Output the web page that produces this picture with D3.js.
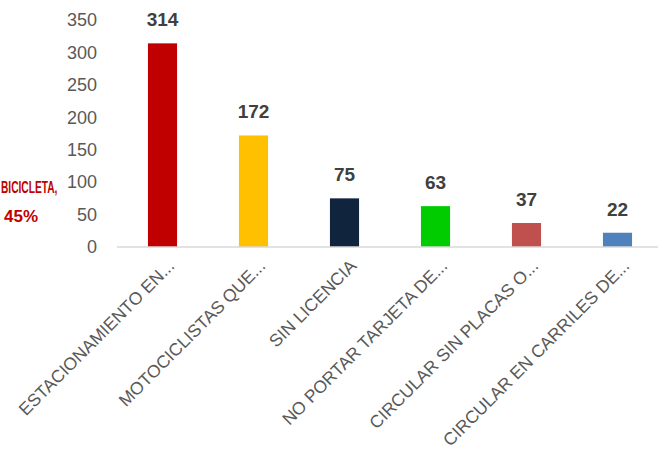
<!DOCTYPE html>
<html>
<head>
<meta charset="utf-8">
<script src="https://cdn.jsdelivr.net/npm/d3@7"></script>
<style>
  body { margin: 0; background: #fff; }
  svg { display: block; font-family: "Liberation Sans", Arial, sans-serif; }
</style>
</head>
<body>
<svg id="chart" width="658" height="454"></svg>
<script>
// data
const categories = [
  "ESTACIONAMIENTO EN...",
  "MOTOCICLISTAS QUE...",
  "SIN LICENCIA",
  "NO PORTAR TARJETA DE...",
  "CIRCULAR SIN PLACAS O...",
  "CIRCULAR EN CARRILES DE..."
];
const values = [314, 172, 75, 63, 37, 22];
const barColors = ["#c00000", "#ffc000", "#10243e", "#00cc00", "#c0504d", "#4f81bd"];
const yTicks = [0, 50, 100, 150, 200, 250, 300, 350];
const sideLabel = ["BICICLETA,", "45%"];

const svg = d3.select("#chart");

const x = d3.scaleBand()
  .domain(categories)
  .range([117, 663])
  .paddingInner(0.68)
  .paddingOuter(0.34);

const y = d3.scaleLinear()
  .domain([0, 350])
  .range([247, 20]);

// y tick labels (no axis line, no gridlines)
svg.append("g")
  .selectAll("text")
  .data(yTicks)
  .enter()
  .append("text")
  .attr("x", 97)
  .attr("y", d => y(d))
  .attr("dy", "0.35em")
  .attr("text-anchor", "end")
  .attr("font-size", 18)
  .attr("fill", "#595959")
  .text(d => d);

// bars
svg.append("g")
  .selectAll("rect")
  .data(values)
  .enter()
  .append("rect")
  .attr("x", (d, i) => x(categories[i]))
  .attr("y", d => y(d))
  .attr("width", x.bandwidth())
  .attr("height", d => y(0) - y(d))
  .attr("fill", (d, i) => barColors[i]);

// baseline
svg.append("line")
  .attr("x1", 117)
  .attr("x2", 658)
  .attr("y1", y(0))
  .attr("y2", y(0))
  .attr("stroke", "#d9d9d9")
  .attr("stroke-width", 1.5);

// value labels
svg.append("g")
  .selectAll("text")
  .data(values)
  .enter()
  .append("text")
  .attr("x", (d, i) => x(categories[i]) + x.bandwidth() / 2)
  .attr("y", d => y(d) - 17)
  .attr("text-anchor", "middle")
  .attr("font-size", 19)
  .attr("font-weight", "bold")
  .attr("fill", "#404040")
  .text(d => d);

// rotated category labels
svg.append("g")
  .selectAll("text")
  .data(categories)
  .enter()
  .append("text")
  .attr("transform", d => `translate(${x(d) + x.bandwidth() / 2 + 13},267) rotate(-45)`)
  .attr("text-anchor", "end")
  .attr("font-size", 17.5)
  .attr("fill", "#595959")
  .text(d => d);

// red label at the far left, squeezed horizontally so it fits inside the picture
const side = svg.append("g")
  .attr("font-size", 17)
  .attr("font-weight", "bold")
  .attr("fill", "#c00000");

side.append("text")
  .attr("transform", "translate(1,193) scale(0.6,1)")
  .text(sideLabel[0]);

side.append("text")
  .attr("x", 21)
  .attr("y", 222)
  .attr("text-anchor", "middle")
  .text(sideLabel[1]);
</script>
</body>
</html>
